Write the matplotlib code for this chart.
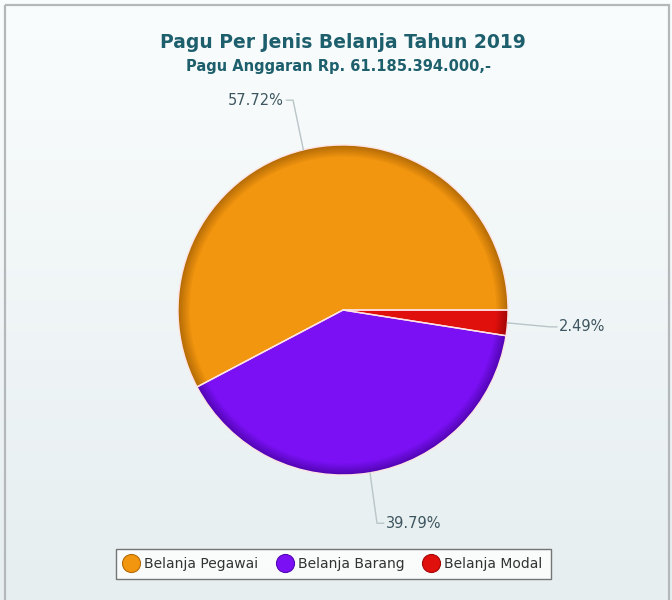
import numpy as np
import matplotlib
matplotlib.use("Agg")
import matplotlib.pyplot as plt
from matplotlib.colors import to_rgb
from matplotlib.lines import Line2D
from matplotlib.patches import Rectangle

# ---- data ----
categories = ["Belanja Pegawai", "Belanja Barang", "Belanja Modal"]
values = [57.72, 39.79, 2.49]
labels = ["57.72%", "39.79%", "2.49%"]
title = "Pagu Per Jenis Belanja Tahun 2019"
subtitle = "Pagu Anggaran Rp. 61.185.394.000,-"

base_colors = ["#F2950F", "#7B10F5", "#E0100D"]
rim_colors = ["#B56C06", "#5206B5", "#A50808"]

W, H = 672, 600
fig = plt.figure(figsize=(W / 100, H / 100), dpi=100)

# background axes in pixel coordinates
bg = fig.add_axes([0, 0, 1, 1])
bg.set_xlim(0, W)
bg.set_ylim(H, 0)
bg.axis("off")
top = np.array(to_rgb("#fafdfd"))
bot = np.array(to_rgb("#e6eef0"))
t = np.linspace(0, 1, 256)[:, None]
grad = (top[None, :] * (1 - t) + bot[None, :] * t)[:, None, :]
bg.imshow(grad, extent=[0, W, H, 0], aspect="auto", zorder=0)
bg.add_patch(Rectangle((5, 5), 664, 610, fill=False, edgecolor="#b4b8ba", lw=1.6, zorder=1))

title_color = "#1d5f6c"
bg.text(343, 42, title, ha="center", va="center", fontsize=13.5, fontweight="bold",
        color=title_color, family="DejaVu Sans")
bg.text(338, 66, subtitle, ha="center", va="center", fontsize=10.5, fontweight="bold",
        color=title_color, family="DejaVu Sans")

# legend
handles = [Line2D([], [], marker="o", ls="none", markersize=13, markerfacecolor=c,
                  markeredgecolor=r, markeredgewidth=0.8) for c, r in zip(base_colors, rim_colors)]
leg = bg.legend(handles, categories, loc="center", bbox_to_anchor=(333.5, 564),
                bbox_transform=bg.transData, ncol=3, frameon=True, fancybox=False,
                fontsize=10, handletextpad=0.45, columnspacing=1.4, borderpad=0.6,
                handlelength=1.0, borderaxespad=0, labelcolor="#333333")
leg.get_frame().set_edgecolor("#555555")
leg.get_frame().set_linewidth(1.0)
leg.get_frame().set_facecolor("white")

# pie axes
cx, cy, R = 343, 310, 165
ax = fig.add_axes([(cx - R) / W, (H - cy - R) / H, 2 * R / W, 2 * R / H])
ax.patch.set_alpha(0)

# shaded rim: layered pies from dark rim to base colour
n = 8
radii = np.linspace(1.0, 0.93, n)
for i, r in enumerate(radii):
    f = i / (n - 1)
    cols = [tuple(np.array(to_rgb(rc)) * (1 - f) + np.array(to_rgb(bc)) * f)
            for bc, rc in zip(base_colors, rim_colors)]
    ax.pie(values, colors=cols, startangle=0, counterclock=True, radius=r,
           wedgeprops=dict(linewidth=0))
wedges, _ = ax.pie(values, colors=["none"] * 3, startangle=0, counterclock=True, radius=1.0,
                   wedgeprops=dict(linewidth=1.0, edgecolor="#ffe4e4", fill=False))
ax.set_xlim(-1, 1)
ax.set_ylim(-1, 1)
ax.set_aspect("equal")
ax.axis("off")

label_color = "#3e5660"
line_color = "#b9c5c9"
for w, lab in zip(wedges, labels):
    ang = np.deg2rad((w.theta1 + w.theta2) / 2)
    c, s = np.cos(ang), np.sin(ang)
    p0 = (c, s)
    p1 = (1.26 * c, 1.31 * s)
    side = 1 if c >= 0 else -1
    p2 = (p1[0] + side * 0.04, p1[1])
    ax.plot([p0[0], p1[0], p2[0]], [p0[1], p1[1], p2[1]], color=line_color, lw=1.0,
            clip_on=False)
    ax.text(p2[0] + side * 0.015, p2[1], lab, ha="left" if side > 0 else "right",
            va="center", fontsize=10.5, color=label_color, clip_on=False)

fig.savefig("out.png", dpi=100)
